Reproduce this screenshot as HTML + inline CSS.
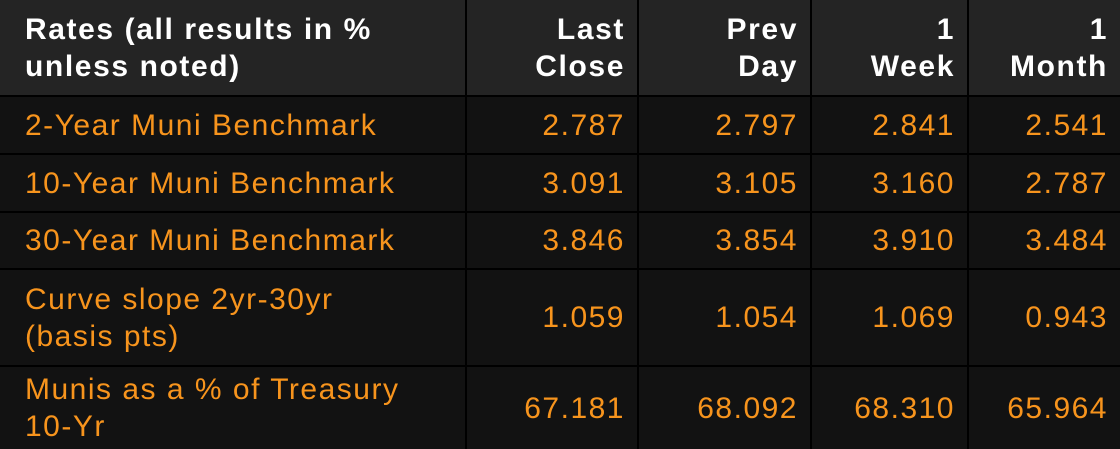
<!DOCTYPE html>
<html><head><style>
body{margin:0;width:1120px;height:449px;background:#000;overflow:hidden;font-family:"Liberation Sans",sans-serif;}
.c{position:absolute;box-sizing:border-box;display:flex;flex-direction:column;justify-content:center;padding:0 12px 0 25px;font-size:30px;line-height:37px;letter-spacing:1.5px;color:#f7941d;background:#121212;}
.h{background:#242424;color:#fff;font-weight:bold;letter-spacing:1.6px;}
.r{text-align:right;}
</style></head><body>
<div id="t"></div>
<script>
var xs=[0,465,637,810,967,1120],ys=[0,95,153,211,268,365,449];
var rows=[["Rates (all results in %<br>unless noted)","Last<br>Close","Prev<br>Day","1<br>Week","1<br>Month"],
["2-Year Muni Benchmark","2.787","2.797","2.841","2.541"],
["10-Year Muni Benchmark","3.091","3.105","3.160","2.787"],
["30-Year Muni Benchmark","3.846","3.854","3.910","3.484"],
["Curve slope 2yr-30yr<br>(basis pts)","1.059","1.054","1.069","0.943"],
["Munis as a % of Treasury<br>10-Yr","67.181","68.092","68.310","65.964"]];
var h="";
for(var i=0;i<6;i++)for(var j=0;j<5;j++){
var l=xs[j]+(j?2:0),t=ys[i]+(i?2:0),w=xs[j+1]-l,hh=ys[i+1]-t;
h+='<div class="c'+(i==0?' h':'')+(j?' r':'')+'" style="left:'+l+'px;top:'+t+'px;width:'+w+'px;height:'+hh+'px">'+rows[i][j]+'</div>';}
document.getElementById('t').innerHTML=h;
</script>
</body></html>
